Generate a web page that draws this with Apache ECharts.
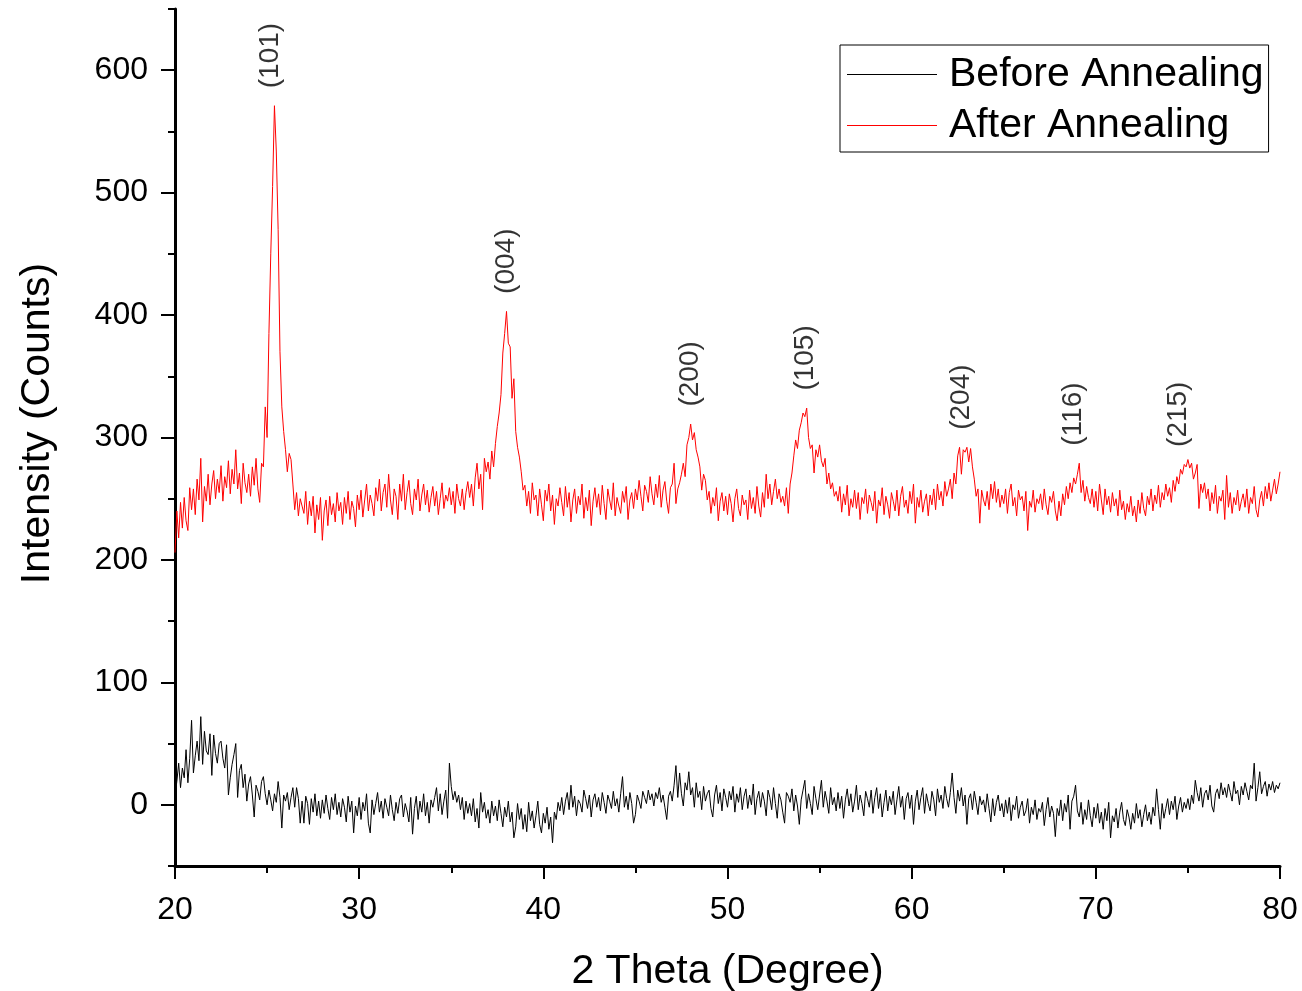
<!DOCTYPE html>
<html>
<head>
<meta charset="utf-8">
<script src="https://cdn.jsdelivr.net/npm/echarts@6/dist/echarts.min.js"></script>
<style>
  html, body { margin: 0; padding: 0; background: #fff; }
  #chart { width: 1302px; height: 991px; }
</style>
</head>
<body>
<div id="chart"></div>
<script>
// scan grid: 20° to 80°, 0.1° step
const startAngle = 20
const stepAngle = 0.1

// intensity, one row per degree (x.0 ... x.9)
const beforeAnnealing = [
  8, 19, 34, 14, 30, 22, 45, 18, 38, 69,
  26, 40, 52, 36, 72, 33, 60, 44, 41, 58,
  24, 57, 42, 34, 50, 52, 38, 30, 49, 8,
  22, 33, 41, 50, 6, 28, 33, 14, 25, 3,
  17, 23, 8, -10, 16, 11, 4, 19, 23, 9,
  0, 12, 4, -5, 9, 2, 19, 6, -19, 8,
  3, 10, -4, 6, 14, -2, 14, 5, -15, 3,
  -15, 7, 1, -16, 5, -6, 9, -9, 3, -11,
  4, -7, 8, -3, -12, 6, -4, 9, -8, 2,
  -10, 5, -2, -14, 7, -6, 3, -23, -1, -9,
  6, -12, 2, -5, 9, -15, -23, 4, -8, 1,
  10, -6, 3, -11, 5, -2, -9, 8, -4, -13,
  2, -7, 5, 8, -10, 1, -5, -14, 6, -24,
  -3, 7, -12, 3, -6, 9, -9, 2, -15, 4,
  -2, 6, 14, -5, 9, -8, 3, 12, -11, 34,
  15, 4, 11, 2, 8, -4, 6, -12, 3, -7,
  1, -9, 5, -14, -3, -19, 10, -6, 2, -11,
  -4, -15, 3, -9, -1, -13, 4, -7, -18, -2,
  -10, 3, -14, -6, -27, -18, 1, -12, -3, -20,
  -8, -22, 2, -13, -5, -19, -9, 3, -16, -23,
  -7, -15, -2, -20, -10, -31, -6, -12, 2, -5,
  6, -8, 3, 10, -4, 16, -2, 7, -9, 4,
  1, -6, 12, 5, -3, 8, -10, 4, 9, -2,
  6, -5, 10, 2, -7, 8, 3, -3, 11, -1,
  5, -6, 9, 23, -2, 7, -4, 10, 1, -15,
  -8, 8, 3, -3, 11, 6, 1, 12, 4, 9,
  -1, 10, 5, 14, 2, 8, -2, -12, 7, 11,
  3, 16, 32, 6, 26, 9, -1, 18, 12, 27,
  8, 14, -2, 18, 6, 11, -4, 15, 3, 9,
  12, -3, -10, 8, 16, 1, 10, -5, 13, 6,
  -2, 11, 4, 15, -6, 9, 2, 14, -4, 7,
  13, -3, 8, 0, 17, -8, 5, 11, -2, 10,
  3, -9, 12, 6, -4, 14, 1, -11, 9, 4,
  -6, -15, 10, 7, 2, 13, -5, 8, -1, -16,
  4, 12, 20, -3, 9, 1, -8, 15, 5, -4,
  8, 20, -2, 11, 3, -7, 14, 0, 6, -5,
  10, -3, 7, -11, 4, 13, -1, 9, -6, 3,
  16, -4, 8, 1, -9, 11, 5, -2, 12, -7,
  6, 14, -3, 9, -10, 2, 12, -5, 7, 0,
  11, -8, 4, 15, -2, 7, -12, 5, 10, -3,
  8, -16, 3, 12, -4, 6, 14, -7, 9, 1,
  -5, 11, 4, -9, 13, 2, 8, -3, 15, 5,
  -2, 10, 26, 6, -7, 12, 3, 14, -1, 8,
  -16, 5, 9, -4, 11, 2, -8, 7, 0, 4,
  -6, 9, -3, -14, 5, -9, 2, 8, -5, 1,
  -10, 4, -7, 6, -13, 0, -4, 7, -11, -2,
  3, -9, -5, 5, -15, -2, -8, 4, -12, -3,
  -6, 2, -17, -4, 6, -10, -1, -7, -26, -3,
  -9, 4, -13, 1, -6, 8, -20, 3, 7, 16,
  -5, -10, 2, -16, -4, -12, 4, -9, -18, -2,
  -11, 1, -15, -6, -20, -3, -13, 2, -27, -9,
  -14, -3, -19, -6, 2, -12, -17, -4, -10, -20,
  -7, -15, 1, -11, -4, -18, -8, 0, -13, -6,
  -16, -2, -9, 13, -4, -20, 1, -11, -3, 5,
  -8, 3, -4, 7, -12, -1, 6, -6, 2, -3,
  5, -4, 8, 1, 20, 10, 3, 14, -2, 9,
  12, 4, 16, -1, -6, 9, 13, 5, 18, 8,
  14, 6, 17, 10, 3, 19, 9, 12, 0, 15,
  8, 18, 11, 4, 16, 13, 34, 3, 14, 27,
  9, 15, 19, 7, 17, 12, 19, 10, 16, 13,
  18
]

const afterAnnealing = [
  206, 240, 218, 247, 226, 251, 232, 224, 259, 241,
  258, 237, 266, 249, 283, 231, 260, 248, 270, 245,
  262, 273, 250, 266, 255, 277, 248, 268, 259, 281,
  254, 274, 262, 290, 258, 271, 246, 279, 263, 255,
  270, 252, 276, 261, 283, 258, 247, 279, 276, 325,
  300, 385, 450, 505, 571, 534, 470, 370, 325, 305,
  290, 272, 287, 282, 262, 241, 255, 236, 250, 244,
  238, 256, 229, 248, 236, 252, 222, 245, 233, 251,
  216, 240, 249, 228, 252, 237, 246, 231, 255, 240,
  247, 229, 251, 238, 256, 233, 248, 242, 227, 253,
  241, 257, 235, 249, 262, 240, 253, 246, 236, 259,
  248, 266, 240, 255, 262, 243, 270, 249, 237, 258,
  252, 233, 262, 248, 270, 241, 255, 265, 246, 237,
  258, 249, 266, 240, 253, 262, 245, 257, 239, 251,
  260, 244, 256, 237, 250, 263, 242, 253, 248, 259,
  245, 256, 238, 262, 250, 244, 258, 241, 255, 264,
  251, 262, 244, 267, 279, 258, 270, 241, 283, 272,
  280, 266, 289, 276, 295, 309, 320, 335, 369, 385,
  403, 377, 374, 332, 348, 305, 292, 284, 272, 257,
  261, 244, 256, 238, 263, 249, 253, 236, 258, 245,
  232, 257, 248, 262, 240, 253, 229, 250, 244, 259,
  247, 236, 260, 243, 255, 231, 249, 258, 238, 252,
  245, 262, 234, 251, 240, 257, 228, 248, 259, 243,
  254, 237, 261, 246, 233, 258, 249, 241, 263, 236,
  251, 244, 238, 256, 247, 260, 233, 249, 255, 242,
  258, 249, 265, 252, 240, 261, 256, 247, 268, 254,
  245, 262, 251, 269, 243, 257, 264, 248, 238, 259,
  262, 279, 246, 258, 263, 270, 279, 268, 294, 300,
  311, 298, 304, 290, 284, 276, 257, 270, 265, 249,
  256, 238, 251, 244, 259, 232, 248, 255, 240, 252,
  237, 254, 246, 231, 250, 258, 242, 236, 253, 245,
  249, 233, 257, 242, 251, 238, 260, 244, 235, 255,
  243, 270, 250, 262, 245, 256, 266, 250, 258, 247,
  252, 244, 259, 238, 262, 271, 285, 298, 291, 306,
  312, 320, 317, 324, 300, 291, 294, 271, 290, 284,
  294, 281, 276, 283, 262, 271, 258, 263, 252, 256,
  248, 260, 239, 254, 245, 261, 236, 250, 243, 257,
  242, 255, 233, 251, 246, 258, 238, 253, 247, 240,
  256, 230, 249, 244, 259, 237, 252, 245, 234, 255,
  248, 240, 257, 236, 252, 260, 243, 249, 238, 256,
  246, 262, 230, 251, 243, 257, 239, 248, 254, 236,
  253, 245, 258, 241, 262, 249, 256, 244, 264, 252,
  258, 266, 250, 271, 262, 285, 292, 270, 290, 288,
  292, 280, 291, 276, 266, 252, 258, 230, 257, 249,
  244, 256, 241, 262, 250, 264, 247, 258, 243, 253,
  246, 258, 238, 255, 262, 244, 251, 236, 257, 249,
  252, 240, 256, 224, 248, 243, 257, 239, 250, 246,
  254, 241, 258, 245, 237, 252, 247, 256, 240, 232,
  248, 236, 254, 245, 260, 250, 263, 255, 267, 262,
  270, 279, 255, 265, 248, 260, 251, 246, 258, 243,
  256, 240, 262, 249, 237, 258, 245, 252, 239, 255,
  244, 250, 236, 257, 241, 248, 233, 246, 239, 252,
  236, 244, 231, 249, 238, 255, 242, 236, 252, 245,
  258, 240, 253, 246, 261, 243, 255, 249, 262, 252,
  259, 247, 265, 256, 268, 262, 274, 270, 278, 276,
  282, 275, 279, 266, 271, 278, 242, 262, 255, 263,
  250, 258, 240, 255, 246, 261, 238, 252, 248, 257,
  233, 269, 243, 255, 238, 251, 245, 257, 240, 248,
  254, 243, 258, 238, 251, 246, 260, 241, 235, 249,
  256, 244, 260, 250, 263, 248, 257, 266, 254, 262,
  272
]

// Miller indices of the anatase peaks and where they sit (2θ)
const peakNames = ['(101)', '(004)', '(200)', '(105)', '(204)', '(116)', '(215)']
const peakAngles = [25.2, 38.0, 48.0, 54.2, 62.7, 68.8, 74.5]

const xTicks = [20, 30, 40, 50, 60, 70, 80]
const yTicks = [0, 100, 200, 300, 400, 500, 600]
const yMinorTicks = [-50, 50, 150, 250, 350, 450, 550, 650]

const fontFamily = "'Liberation Sans', Arial, sans-serif"

function toPairs(values) {
  return values.map((v, i) => [Math.round((startAngle + i * stepAngle) * 10) / 10, v])
}

const beforeData = toPairs(beforeAnnealing)
const afterData = toPairs(afterAnnealing)

// put each hkl label just above the highest red point near its angle
const peakLabelData = peakAngles.map((a, k) => {
  let top = -Infinity
  afterData.forEach(([x, y]) => {
    if (Math.abs(x - a) <= 0.41 && y > top) top = y
  })
  return { name: peakNames[k], value: [a, top] }
})

const chart = echarts.init(document.getElementById('chart'))

chart.setOption({
  animation: false,
  textStyle: { fontFamily },
  grid: { left: 175, right: 22, top: 9, bottom: 125, containLabel: false, outerBoundsMode: 'none' },
  legend: {
    data: ['Before Annealing', 'After Annealing'],
    orient: 'vertical',
    left: 840,
    top: 45,
    padding: [9, 5, 6, 7],
    itemGap: 10,
    itemWidth: 90,
    itemHeight: 1,
    icon: 'rect',
    borderColor: '#000',
    borderWidth: 1,
    backgroundColor: '#fff',
    textStyle: { fontSize: 41, color: '#000', fontFamily, padding: [0, 0, 0, 7] }
  },
  xAxis: {
    type: 'value',
    min: 20,
    max: 80,
    interval: 10,
    name: '2 Theta (Degree)',
    nameLocation: 'middle',
    nameGap: 85,
    nameTextStyle: { fontSize: 41, color: '#000', fontFamily },
    axisLine: { show: true, onZero: false, lineStyle: { color: '#000', width: 3 } },
    axisTick: { show: true, length: 13, lineStyle: { color: '#000', width: 2 }, customValues: xTicks },
    minorTick: { show: true, splitNumber: 2, length: 7, lineStyle: { color: '#000', width: 2 } },
    axisLabel: { fontSize: 32, color: '#000', margin: 28, fontFamily, customValues: xTicks },
    splitLine: { show: false },
    minorSplitLine: { show: false }
  },
  yAxis: [
    {
      type: 'value',
      min: -50,
      max: 650,
      interval: 50,
      name: 'Intensity (Counts)',
      nameLocation: 'middle',
      nameGap: 117,
      nameTextStyle: { fontSize: 41, color: '#000', fontFamily, padding: [0, 0, 0, 28] },
      axisLine: { show: true, onZero: false, lineStyle: { color: '#000', width: 3 } },
      axisTick: { show: true, length: 14, lineStyle: { color: '#000', width: 2 }, customValues: yTicks },
      axisLabel: { fontSize: 32, color: '#000', margin: 27, fontFamily, customValues: yTicks },
      splitLine: { show: false }
    },
    {
      // short ticks at the 50s
      type: 'value',
      min: -50,
      max: 650,
      interval: 50,
      position: 'left',
      axisLine: { show: false, onZero: false },
      axisTick: { show: true, length: 7, lineStyle: { color: '#000', width: 2 }, customValues: yMinorTicks },
      axisLabel: { show: false },
      splitLine: { show: false }
    }
  ],
  series: [
    {
      name: 'Before Annealing',
      type: 'line',
      data: beforeData,
      symbol: 'none',
      lineStyle: { color: '#000', width: 1 },
      itemStyle: { color: '#000' }
    },
    {
      name: 'After Annealing',
      type: 'line',
      data: afterData,
      symbol: 'none',
      lineStyle: { color: '#ff0000', width: 1 },
      itemStyle: { color: '#ff0000' }
    },
    {
      name: 'hkl',
      type: 'scatter',
      data: peakLabelData,
      symbolSize: 1,
      itemStyle: { color: 'rgba(0,0,0,0)' },
      silent: true,
      label: {
        show: true,
        position: 'top',
        distance: 17,
        rotate: 90,
        align: 'left',
        verticalAlign: 'middle',
        formatter: '{b}',
        fontSize: 28,
        color: '#000',
        fontFamily
      }
    }
  ]
})
</script>
</body>
</html>
